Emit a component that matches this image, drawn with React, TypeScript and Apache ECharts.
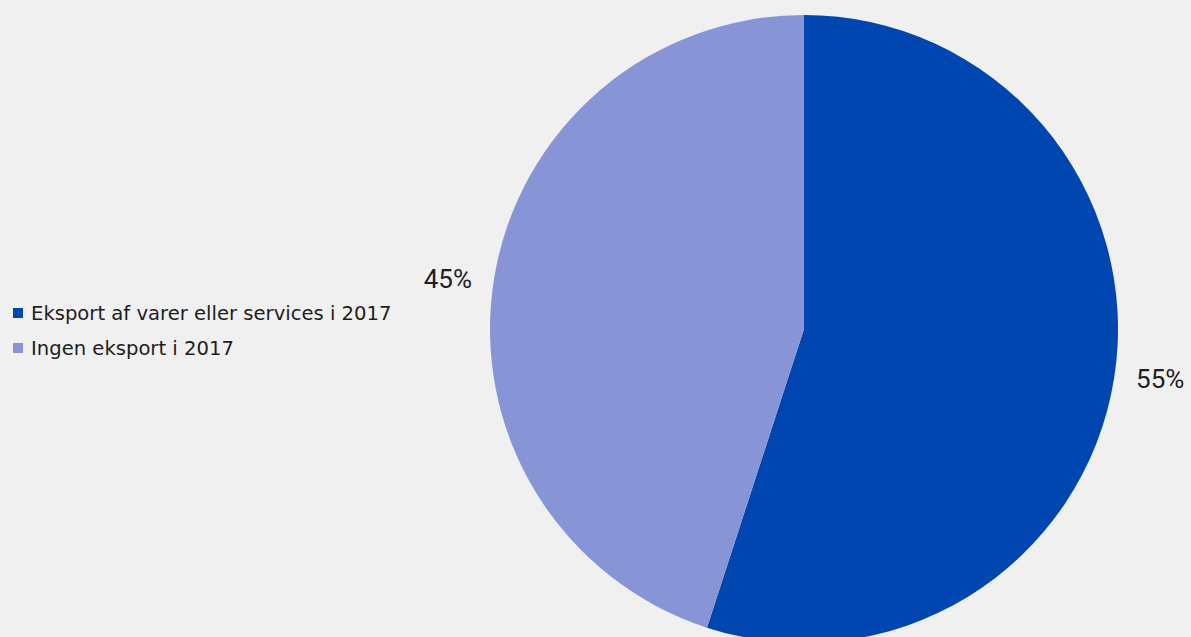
import React, { useEffect, useRef } from "react";
import * as echarts from "echarts";

const categories = ["Eksport af varer eller services i 2017", "Ingen eksport i 2017"];
const shares = [55, 45];
const colors = ["#0046b1", "#8795d6"];

export default function App() {
  const ref = useRef<HTMLDivElement>(null);

  useEffect(() => {
    document.body.style.margin = "0";
    document.body.style.background = "#f0f0f0";
    const chart = echarts.init(ref.current!, null, { renderer: "svg" });
    chart.setOption({
      animation: false,
      backgroundColor: "#f0f0f0",
      textStyle: { fontFamily: "Roboto, sans-serif" },
      legend: {
        orient: "vertical",
        left: 13,
        top: 303,
        padding: 0,
        itemWidth: 10,
        itemHeight: 10,
        itemGap: 15,
        icon: "rect",
        textStyle: {
          fontSize: 19.6,
          fontFamily: "DejaVu Sans",
          color: "#1e1e1e",
          padding: [0, 0, 0, 3],
        },
        data: categories,
      },
      series: [
        {
          type: "pie",
          center: [804, 329],
          radius: 314,
          startAngle: 90,
          clockwise: true,
          color: colors,
          label: {
            show: true,
            position: "outside",
            formatter: "{c}%",
            fontSize: 26,
            fontFamily: "Roboto",
            color: "#1e1e1e",
            overflow: "none",
          },
          labelLine: { show: false, length: 6, length2: 11 },
          itemStyle: { borderWidth: 0 },
          emphasis: { disabled: true },
          data: categories.map((name, i) => ({ name, value: shares[i] })),
        },
      ],
    });
    return () => chart.dispose();
  }, []);

  return <div ref={ref} style={{ width: 1191, height: 637 }} />;
}
